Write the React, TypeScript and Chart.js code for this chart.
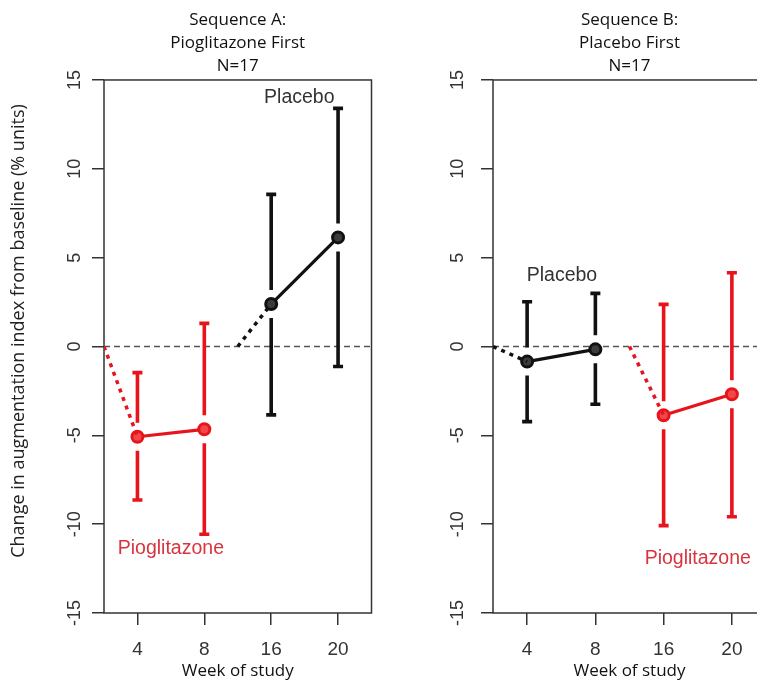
import React, { useEffect, useRef } from "react";
import { Chart, registerables } from "chart.js";

Chart.register(...registerables);

// ---------- data ----------
const WEEKS = ["4", "8", "16", "20"];
const Y_MIN = -15;
const Y_MAX = 15;
const Y_STEP = 5;

// Sequence A: Pioglitazone first
const A_TITLE = ["Sequence A:", "Pioglitazone First", "N=17"];
const A_PIO_POS = [1, 2];
const A_PIO_MEAN = [-5.08, -4.66];
const A_PIO_LOW = [-8.64, -10.57];
const A_PIO_HIGH = [-1.47, 1.3];
const A_PIO_START = [0.5, 0];
const A_PBO_POS = [3, 4];
const A_PBO_MEAN = [2.39, 6.14];
const A_PBO_LOW = [-3.85, -1.13];
const A_PBO_HIGH = [8.56, 13.4];
const A_PBO_START = [2.5, 0];
const A_LABEL_PBO = [3.42, 14.0];
const A_LABEL_PIO = [1.5, -11.4];

// Sequence B: Placebo first
const B_TITLE = ["Sequence B:", "Placebo First", "N=17"];
const B_PBO_POS = [1, 2];
const B_PBO_MEAN = [-0.85, -0.16];
const B_PBO_LOW = [-4.23, -3.25];
const B_PBO_HIGH = [2.52, 2.99];
const B_PBO_START = [0.5, 0];
const B_PIO_POS = [3, 4];
const B_PIO_MEAN = [-3.87, -2.69];
const B_PIO_LOW = [-10.08, -9.58];
const B_PIO_HIGH = [2.37, 4.15];
const B_PIO_START = [2.5, 0];
const B_LABEL_PBO = [1.51, 3.97];
const B_LABEL_PIO = [3.5, -11.96];

const Y_TITLE = "Change in augmentation index from baseline (% units)";
const X_TITLE = "Week of study";
const LABEL_PBO = "Placebo";
const LABEL_PIO = "Pioglitazone";

// ---------- styles ----------
const RED = "#e8141c";
const RED_FILL = "#f04848";
const RED_TEXT = "#d8343e";
const BLACK = "#111111";
const BLACK_FILL = "#3c3c3c";
const AXIS = "#333333";
const ARIAL = "'Liberation Sans', Arial, sans-serif";
const SANS = "'Open Sans', 'Noto Sans', sans-serif";

type Group = {
  pos: number[];
  mean: number[];
  low: number[];
  high: number[];
  start: number[];
  color: string;
  fill: string;
};

type PanelSpec = {
  title: string[];
  groups: Group[];
  labels: { text: string; at: number[]; color: string }[];
  yAxisWidth: number;
  tickPad: number;
  rightPad: number;
  showYTitle: boolean;
};

function makeConfig(spec: PanelSpec): any {
  const datasets: any[] = [];
  for (const g of spec.groups) {
    datasets.push({
      data: [
        { x: g.start[0], y: g.start[1] },
        { x: g.pos[0], y: g.mean[0] },
      ],
      borderColor: g.color,
      borderWidth: 3.5,
      borderDash: [4, 5],
      pointRadius: 0,
      fill: false,
    });
    datasets.push({
      data: g.pos.map((p, i) => ({ x: p, y: g.mean[i] })),
      borderColor: g.color,
      borderWidth: 3.2,
      pointRadius: 5.5,
      pointBorderWidth: 3,
      pointBorderColor: g.color,
      pointBackgroundColor: g.fill,
      fill: false,
    });
  }

  const decor = {
    id: "decor",
    beforeDatasetsDraw(chart: any) {
      const { ctx, chartArea, scales } = chart;
      const xs = scales.x;
      const ys = scales.y;
      ctx.save();
      // frame
      ctx.strokeStyle = AXIS;
      ctx.lineWidth = 1.5;
      ctx.strokeRect(
        chartArea.left,
        chartArea.top,
        chartArea.right - chartArea.left,
        chartArea.bottom - chartArea.top
      );
      // zero reference line
      const y0 = ys.getPixelForValue(0);
      ctx.setLineDash([6, 4]);
      ctx.strokeStyle = "#555555";
      ctx.lineWidth = 1.5;
      ctx.beginPath();
      ctx.moveTo(chartArea.left, y0);
      ctx.lineTo(chartArea.right, y0);
      ctx.stroke();
      ctx.setLineDash([]);
      // error bars
      const gap = 14;
      const cap = 5;
      for (const g of spec.groups) {
        ctx.strokeStyle = g.color;
        ctx.lineWidth = 3.6;
        g.pos.forEach((p, i) => {
          const px = xs.getPixelForValue(p);
          const pm = ys.getPixelForValue(g.mean[i]);
          const ph = ys.getPixelForValue(g.high[i]);
          const pl = ys.getPixelForValue(g.low[i]);
          ctx.beginPath();
          if (pm - gap > ph) {
            ctx.moveTo(px, ph);
            ctx.lineTo(px, pm - gap);
          }
          if (pm + gap < pl) {
            ctx.moveTo(px, pm + gap);
            ctx.lineTo(px, pl);
          }
          ctx.moveTo(px - cap, ph);
          ctx.lineTo(px + cap, ph);
          ctx.moveTo(px - cap, pl);
          ctx.lineTo(px + cap, pl);
          ctx.stroke();
        });
      }
      ctx.restore();
    },
    afterDraw(chart: any) {
      const { ctx, scales } = chart;
      const xs = scales.x;
      const ys = scales.y;
      ctx.save();
      ctx.textAlign = "center";
      ctx.textBaseline = "middle";
      ctx.font = `19.5px ${ARIAL}`;
      for (const l of spec.labels) {
        ctx.fillStyle = l.color;
        ctx.fillText(l.text, xs.getPixelForValue(l.at[0]), ys.getPixelForValue(l.at[1]));
      }
      if (spec.showYTitle) {
        ctx.translate(19, 331);
        ctx.rotate(-Math.PI / 2);
        ctx.font = `18px ${SANS}`;
        ctx.fillStyle = "#222222";
        ctx.fillText(Y_TITLE, 0, 0);
      }
      ctx.restore();
    },
  };

  return {
    type: "line",
    data: { datasets },
    plugins: [decor],
    options: {
      animation: false,
      responsive: false,
      layout: { padding: { left: 0, right: spec.rightPad, top: 0, bottom: 0 } },
      plugins: {
        legend: { display: false },
        tooltip: { enabled: false },
        title: {
          display: true,
          fullSize: false,
          text: spec.title,
          color: "#111111",
          font: { family: SANS, size: 17, weight: "normal", lineHeight: 1.38 },
          padding: { top: 8, bottom: 1.6 },
        },
      },
      scales: {
        x: {
          type: "linear",
          min: 0.5,
          max: 4.5,
          afterBuildTicks: (scale: any) => {
            scale.ticks = WEEKS.map((_, i) => ({ value: i + 1 }));
          },
          afterFit: (scale: any) => {
            scale.height = 68;
          },
          ticks: {
            callback: (v: any) => WEEKS[Math.round(v) - 1] ?? "",
            font: { family: ARIAL, size: 19 },
            color: AXIS,
            padding: 13,
            maxRotation: 0,
            autoSkip: false,
          },
          grid: {
            drawOnChartArea: false,
            drawTicks: true,
            tickLength: 12,
            color: AXIS,
            lineWidth: 1.5,
          },
          border: { display: false },
          title: {
            display: true,
            text: X_TITLE,
            font: { family: SANS, size: 17 },
            color: "#111111",
            padding: { top: 0, bottom: 0 },
          },
        },
        y: {
          type: "linear",
          min: Y_MIN,
          max: Y_MAX,
          afterFit: (scale: any) => {
            scale.width = spec.yAxisWidth;
          },
          ticks: {
            stepSize: Y_STEP,
            font: { family: ARIAL, size: 18 },
            color: AXIS,
            minRotation: 90,
            maxRotation: 90,
            crossAlign: "center",
            padding: spec.tickPad,
          },
          grid: {
            drawOnChartArea: false,
            drawTicks: true,
            tickLength: 12,
            color: AXIS,
            lineWidth: 1.5,
          },
          border: { display: false },
        },
      },
    },
  };
}

const PANEL_A: PanelSpec = {
  title: A_TITLE,
  groups: [
    { pos: A_PIO_POS, mean: A_PIO_MEAN, low: A_PIO_LOW, high: A_PIO_HIGH, start: A_PIO_START, color: RED, fill: RED_FILL },
    { pos: A_PBO_POS, mean: A_PBO_MEAN, low: A_PBO_LOW, high: A_PBO_HIGH, start: A_PBO_START, color: BLACK, fill: BLACK_FILL },
  ],
  labels: [
    { text: LABEL_PBO, at: A_LABEL_PBO, color: "#333333" },
    { text: LABEL_PIO, at: A_LABEL_PIO, color: RED_TEXT },
  ],
  yAxisWidth: 104,
  tickPad: 4,
  rightPad: 3,
  showYTitle: true,
};

const PANEL_B: PanelSpec = {
  title: B_TITLE,
  groups: [
    { pos: B_PBO_POS, mean: B_PBO_MEAN, low: B_PBO_LOW, high: B_PBO_HIGH, start: B_PBO_START, color: BLACK, fill: BLACK_FILL },
    { pos: B_PIO_POS, mean: B_PIO_MEAN, low: B_PIO_LOW, high: B_PIO_HIGH, start: B_PIO_START, color: RED, fill: RED_FILL },
  ],
  labels: [
    { text: LABEL_PBO, at: B_LABEL_PBO, color: "#333333" },
    { text: LABEL_PIO, at: B_LABEL_PIO, color: RED_TEXT },
  ],
  yAxisWidth: 113,
  tickPad: 10,
  rightPad: 14,
  showYTitle: false,
};

export default function App() {
  const refA = useRef<HTMLCanvasElement | null>(null);
  const refB = useRef<HTMLCanvasElement | null>(null);

  useEffect(() => {
    const charts: Chart[] = [];
    if (refA.current) charts.push(new Chart(refA.current, makeConfig(PANEL_A)));
    if (refB.current) charts.push(new Chart(refB.current, makeConfig(PANEL_B)));
    return () => charts.forEach((c) => c.destroy());
  }, []);

  return (
    <div
      style={{
        position: "fixed",
        left: 0,
        top: 0,
        width: 757,
        height: 681,
        overflow: "hidden",
        background: "#ffffff",
      }}
    >
      <canvas
        ref={refA}
        width={380}
        height={681}
        style={{ position: "absolute", left: 0, top: 0, width: 380, height: 681 }}
      />
      <canvas
        ref={refB}
        width={400}
        height={681}
        style={{ position: "absolute", left: 380, top: 0, width: 400, height: 681 }}
      />
    </div>
  );
}
